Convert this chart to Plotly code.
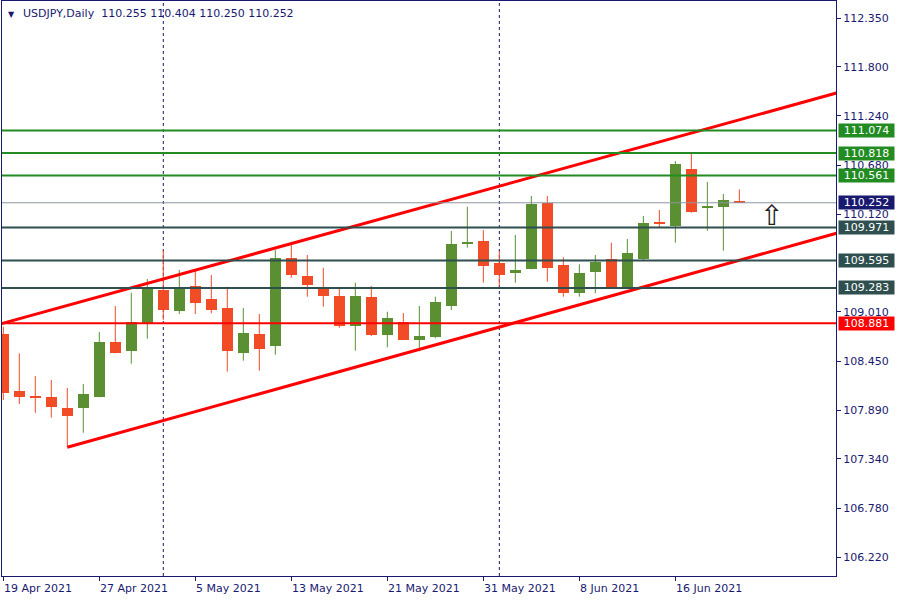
import plotly.graph_objects as go

# ---------------- data ----------------
symbol = "USDJPY"
timeframe = "Daily"

dates = [
    "2021-04-19", "2021-04-20", "2021-04-21", "2021-04-22", "2021-04-23",
    "2021-04-26", "2021-04-27", "2021-04-28", "2021-04-29", "2021-04-30",
    "2021-05-03", "2021-05-04", "2021-05-05", "2021-05-06", "2021-05-07",
    "2021-05-10", "2021-05-11", "2021-05-12", "2021-05-13", "2021-05-14",
    "2021-05-17", "2021-05-18", "2021-05-19", "2021-05-20", "2021-05-21",
    "2021-05-24", "2021-05-25", "2021-05-26", "2021-05-27", "2021-05-28",
    "2021-05-31", "2021-06-01", "2021-06-02", "2021-06-03", "2021-06-04",
    "2021-06-07", "2021-06-08", "2021-06-09", "2021-06-10", "2021-06-11",
    "2021-06-14", "2021-06-15", "2021-06-16", "2021-06-17", "2021-06-18",
    "2021-06-21", "2021-06-22",
]
opens = [
    108.760, 108.111, 108.054, 108.043, 107.918, 107.921, 108.046, 108.668, 108.570, 108.888,
    109.260, 109.025, 109.305, 109.157, 109.055, 108.547, 108.760, 108.626, 109.624, 109.419,
    109.268, 109.192, 108.854, 109.180, 108.751, 108.896, 108.695, 108.725, 109.081, 109.787,
    109.817, 109.567, 109.457, 109.502, 110.246, 109.541, 109.222, 109.468, 109.609, 109.283,
    109.609, 110.037, 109.991, 110.636, 110.196, 110.207, 110.255,
]
highs = [
    108.843, 108.540, 108.282, 108.236, 108.145, 108.191, 108.782, 109.078, 109.229, 109.385,
    109.715, 109.487, 109.495, 109.430, 109.297, 109.055, 108.987, 109.715, 109.791, 109.658,
    109.513, 109.286, 109.343, 109.305, 109.013, 108.998, 109.078, 109.184, 109.931, 110.207,
    109.942, 109.703, 109.885, 110.329, 110.329, 109.632, 109.552, 109.658, 109.798, 109.840,
    110.102, 110.170, 110.727, 110.829, 110.488, 110.352, 110.404,
]
lows = [
    108.009, 107.963, 107.864, 107.808, 107.471, 107.637, 108.040, 108.540, 108.422, 108.706,
    108.919, 108.987, 108.987, 108.995, 108.331, 108.456, 108.342, 108.524, 109.400, 109.184,
    109.070, 108.831, 108.570, 108.737, 108.608, 108.690, 108.563, 108.710, 109.032, 109.741,
    109.343, 109.305, 109.343, 109.495, 109.354, 109.184, 109.184, 109.222, 109.290, 109.279,
    109.601, 109.973, 109.798, 110.139, 109.934, 109.707, 110.250,
]
closes = [
    108.092, 108.046, 108.032, 107.932, 107.830, 108.077, 108.668, 108.547, 108.896, 109.291,
    109.032, 109.283, 109.116, 109.036, 108.570, 108.771, 108.592, 109.624, 109.434, 109.320,
    109.195, 108.854, 109.192, 108.751, 108.941, 108.695, 108.737, 109.127, 109.783, 109.806,
    109.536, 109.434, 109.487, 110.241, 109.513, 109.222, 109.453, 109.578, 109.297, 109.681,
    110.022, 110.018, 110.693, 110.150, 110.215, 110.283, 110.252,
]

tick_dates = ["2021-04-19", "2021-04-27", "2021-05-05", "2021-05-13",
              "2021-05-21", "2021-05-31", "2021-06-08", "2021-06-16"]
tick_labels = ["19 Apr 2021", "27 Apr 2021", "5 May 2021", "13 May 2021",
               "21 May 2021", "31 May 2021", "8 Jun 2021", "16 Jun 2021"]
separator_dates = ["2021-05-03", "2021-06-01"]

price_ticks = [112.350, 111.800, 111.240, 110.680, 110.120, 109.010,
               108.450, 107.890, 107.340, 106.780, 106.220]

level_prices = [111.074, 110.818, 110.561, 109.971, 109.595, 109.283, 108.881]
level_colors = ["#228B22", "#228B22", "#228B22",
                "#2F4F4F", "#2F4F4F", "#2F4F4F", "#FF0000"]

upper_dates = ["2021-04-19", "2021-06-22"]
upper_prices = [108.883, 111.195]
lower_dates = ["2021-04-23", "2021-06-22"]
lower_prices = [107.471, 109.598]

arrow_bars_ahead = 2
arrow_price = 110.113

# ---------------- styles ----------------
BULL = "#5A9032"
BEAR = "#F24C27"
NAVY = "#191970"
FONT = "DejaVu Sans"

idx = {d: i for i, d in enumerate(dates)}
xs = list(range(len(dates)))

fig = go.Figure()

# wicks
for want_bull, col in ((True, BULL), (False, BEAR)):
    wx, wy = [], []
    for i in xs:
        if (closes[i] >= opens[i]) == want_bull:
            wx += [i, i, None]
            wy += [lows[i], highs[i], None]
    fig.add_trace(go.Scatter(x=wx, y=wy, mode="lines",
                             line=dict(color=col, width=1),
                             hoverinfo="skip", showlegend=False))

# bodies
bases = [min(o, c) for o, c in zip(opens, closes)]
heights = [max(abs(c - o), 0.013) for o, c in zip(opens, closes)]
colors = [BULL if c >= o else BEAR for o, c in zip(opens, closes)]
fig.add_trace(go.Bar(x=xs, y=heights, base=bases, width=0.69,
                     marker=dict(color=colors, line=dict(width=0)),
                     showlegend=False, hoverinfo="skip"))

# channel trend lines (rays)
def ray(dlist, plist, x_start, x_end):
    i1, i2 = idx[dlist[0]], idx[dlist[1]]
    slope = (plist[1] - plist[0]) / (i2 - i1)
    return [x_start, x_end], [plist[0] + slope * (x_start - i1),
                              plist[0] + slope * (x_end - i1)]

ux, uy = ray(upper_dates, upper_prices, -1, 60)
lx, ly = ray(lower_dates, lower_prices, idx[lower_dates[0]], 60)
for tx, ty in ((ux, uy), (lx, ly)):
    fig.add_trace(go.Scatter(x=tx, y=ty, mode="lines",
                             line=dict(color="#FF0000", width=3),
                             hoverinfo="skip", showlegend=False))

shapes = []
# period separators
for d in separator_dates:
    shapes.append(dict(type="line", xref="x", yref="paper", x0=idx[d], x1=idx[d],
                       y0=0, y1=1, layer="below",
                       line=dict(color=NAVY, width=1, dash="3px,3px")))
# bid line
bid = closes[-1]
shapes.append(dict(type="line", xref="paper", yref="y", x0=0, x1=1, y0=bid, y1=bid,
                   line=dict(color="#8C96A0", width=1)))
# horizontal levels
for p, c in zip(level_prices, level_colors):
    shapes.append(dict(type="line", xref="paper", yref="y", x0=0, x1=1, y0=p, y1=p,
                       line=dict(color=c, width=2)))

annotations = []
# price labels on right axis
for p, c in list(zip(level_prices, level_colors)) + [(bid, NAVY)]:
    annotations.append(dict(xref="paper", x=1, xanchor="left", xshift=2,
                            yref="y", y=p, yanchor="middle",
                            text=f"{p:.3f}", showarrow=False,
                            bgcolor=c, width=55, height=13, borderpad=0,
                            font=dict(family=FONT, size=11, color="white")))
# date labels (left aligned at tick)
for d, lab in zip(tick_dates, tick_labels):
    annotations.append(dict(xref="x", x=idx[d], xanchor="left", xshift=-1,
                            yref="paper", y=0, yanchor="top", yshift=-4,
                            text=lab, showarrow=False,
                            font=dict(family=FONT, size=11, color=NAVY)))
# header
annotations.append(dict(xref="paper", x=0, xanchor="left", xshift=4,
                        yref="paper", y=1, yanchor="top", yshift=-7,
                        text="▼", showarrow=False,
                        font=dict(family=FONT, size=8, color=NAVY)))
header = (f"{symbol},{timeframe}&nbsp;&nbsp;{opens[-1]:.3f} {highs[-1]:.3f} "
          f"{lows[-1]:.3f} {closes[-1]:.3f}")
annotations.append(dict(xref="paper", x=0, xanchor="left", xshift=19,
                        yref="paper", y=1, yanchor="top", yshift=-4,
                        text=header, showarrow=False,
                        font=dict(family=FONT, size=11, color=NAVY)))
# arrow object
annotations.append(dict(xref="x", x=len(dates) - 1 + arrow_bars_ahead,
                        yref="y", y=arrow_price, text="⇧", showarrow=False,
                        font=dict(family=FONT, size=28, color="#202020")))

fig.update_layout(
    width=900, height=600,
    margin=dict(l=2, r=64, t=1, b=24),
    paper_bgcolor="white", plot_bgcolor="white",
    showlegend=False, barmode="overlay", bargap=0,
    shapes=shapes, annotations=annotations,
    xaxis=dict(range=[-0.081, 52.04], showgrid=False, zeroline=False,
               showline=True, linecolor=NAVY, linewidth=1, mirror=True,
               tickmode="array", tickvals=[idx[d] for d in tick_dates],
               showticklabels=False, ticks="outside", ticklen=4,
               tickcolor=NAVY, fixedrange=True),
    yaxis=dict(range=[106.007, 112.547], side="right", showgrid=False,
               zeroline=False, showline=True, linecolor=NAVY, linewidth=1,
               mirror=True, tickmode="array", tickvals=price_ticks,
               tickformat=".3f", ticks="outside", ticklen=4, tickcolor=NAVY,
               tickfont=dict(family=FONT, size=11, color=NAVY)),
)

fig.write_html("out.html",
               config={"displayModeBar": False},
               post_script="document.body.style.margin='0';"
                           "document.body.style.overflow='hidden';")
